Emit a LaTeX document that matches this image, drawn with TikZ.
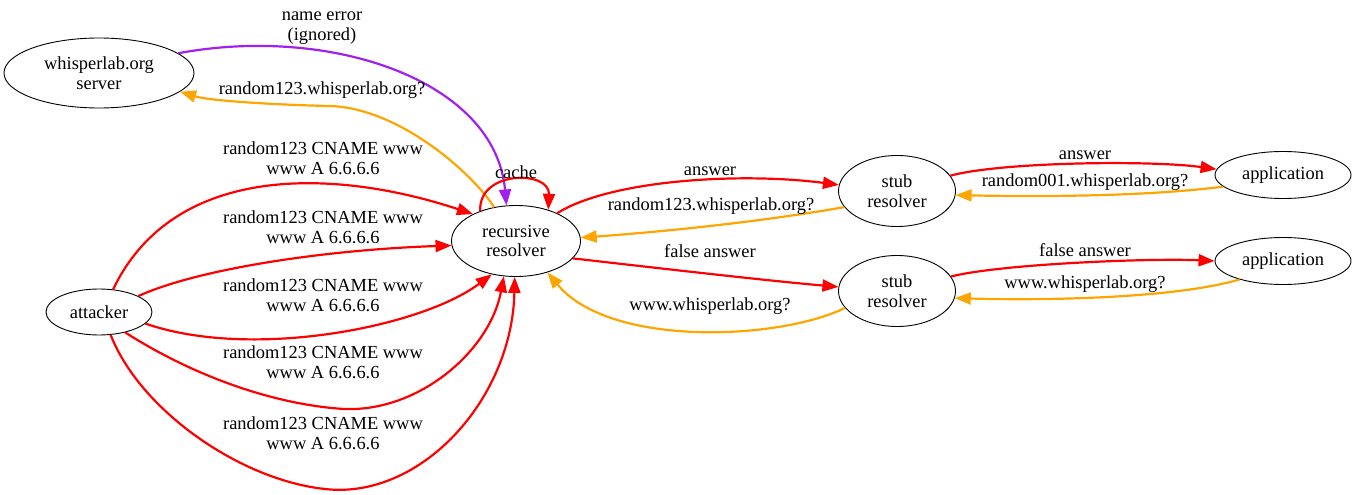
\documentclass[tikz,border=0pt]{standalone}
\usepackage{fontspec}
\setmainfont{Liberation Serif}
\usetikzlibrary{arrows.meta,shapes.geometric}
\definecolor{ansred}{HTML}{FF0000}
\definecolor{qryorange}{HTML}{FFA500}
\definecolor{errpurple}{HTML}{A020F0}
\begin{document}
\begin{tikzpicture}[x=1bp,y=-1bp,
	every node/.style={font=\fontsize{18.5}{20}\selectfont,align=center,inner sep=0pt},
	host/.style={draw,ellipse,line width=0.9bp},
	msg/.style={line width=2.2bp,-{Triangle[length=16bp,width=12bp]}},
	ansline/.style={msg,color=ansred},
	qryline/.style={msg,color=qryorange},
	errline/.style={msg,color=errpurple}]
	\useasboundingbox (0,0) rectangle (1357,495);
	% hosts
	\node[host,minimum width=190bp,minimum height=70bp] (srv) at (99,73) {whisperlab.org\\server};
	\node[host,minimum width=106bp,minimum height=46bp] (att) at (99,312) {attacker};
	\node[host,minimum width=129bp,minimum height=71bp] (res) at (516,241) {recursive\\resolver};
	\node[host,minimum width=117bp,minimum height=71bp] (stub1) at (897,191) {stub\\resolver};
	\node[host,minimum width=117bp,minimum height=71bp] (stub2) at (897,291) {stub\\resolver};
	\node[host,minimum width=136bp,minimum height=47bp] (app1) at (1283,175) {application};
	\node[host,minimum width=136bp,minimum height=47bp] (app2) at (1283,261) {application};
	
	% server
	\draw[errline] (srv.14) .. controls (330,25) and (495,80) .. (res.105);
	\draw[qryline] (res.123) .. controls (474,175) and (400,108) .. (330,106) .. controls (280,105) and (210,101) .. (srv.347);
	\draw[ansline] (res.140) .. controls (478,170) and (550,170) .. (res.44);
	\node (lErr) at (322,28) {name error\\(ignored)};
	\node (lSrvQ) at (322,90) {random123.whisperlab.org?};
	\node (lCache) at (516,172) {cache};
	
	% attacker
	\draw[ansline] (att.58) .. controls (175,160) and (340,170) .. (res.148);
	\draw[ansline] (att.22) .. controls (195,270) and (320,250) .. (res.184);
	\draw[ansline] (att.346) .. controls (250,360) and (420,328) .. (res.234);
	\draw[ansline] (att.322) .. controls (200,380) and (280,405) .. (344,409) .. controls (420,412) and (490,350) .. (res.251);
	\draw[ansline] (att.297) .. controls (140,410) and (240,480) .. (325,489) .. controls (420,500) and (512,400) .. (res.268);
	\foreach \ly/\n in {158/1,227/2,295/3,362/4,433/5}
		\node (lAtk\n) at (323,\ly) {random123 CNAME www\\www A 6.6.6.6};
	
	% resolver and stubs
	\draw[ansline] (res.34) .. controls (610,180) and (740,172) .. (stub1.174);
	\draw[qryline] (stub1.197) .. controls (760,222) and (660,232) .. (res.3);
	\draw[ansline] (res.343) .. controls (640,266) and (760,280) .. (stub2.176);
	\draw[qryline] (stub2.198) .. controls (780,340) and (610,348) .. (res.315);
	\node (lAns) at (710,171) {answer};
	\node (lQry) at (711,206) {random123.whisperlab.org?};
	\node (lFalse) at (710,251) {false answer};
	\node (lWww) at (710,306) {www.whisperlab.org?};
	
	% stubs and applications
	\draw[ansline] (stub1.16) .. controls (1000,162) and (1150,160) .. (app1.175);
	\draw[qryline] (app1.191) .. controls (1150,196) and (1050,197) .. (stub1.356);
	\draw[ansline] (stub2.15) .. controls (1000,264) and (1150,258) .. (app2.180);
	\draw[qryline] (app2.203) .. controls (1180,297) and (1060,301) .. (stub2.353);
	\node (lAns2) at (1085,155) {answer};
	\node (lQry2) at (1085,182) {random001.whisperlab.org?};
	\node (lFalse2) at (1085,250) {false answer};
	\node (lWww2) at (1085,284) {www.whisperlab.org?};
\end{tikzpicture}
\end{document}
